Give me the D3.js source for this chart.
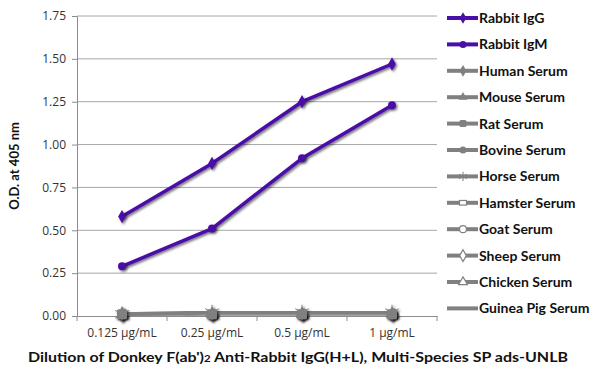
<!DOCTYPE html>
<html>
<head>
<meta charset="utf-8">
<script src="https://cdn.jsdelivr.net/npm/d3@7"></script>
<style>
  body { margin: 0; background: #fff; }
  svg { display: block; }
</style>
</head>
<body>
<div id="chart"></div>
<script>
// Data
const doses = ["0.125 µg/mL", "0.25 µg/mL", "0.5 µg/mL", "1 µg/mL"];
const seriesNames = ["Rabbit IgG", "Rabbit IgM", "Human Serum", "Mouse Serum", "Rat Serum",
  "Bovine Serum", "Horse Serum", "Hamster Serum", "Goat Serum", "Sheep Serum",
  "Chicken Serum", "Guinea Pig Serum"];
const rabbitIgG = [0.58, 0.89, 1.25, 1.47];
const rabbitIgM = [0.29, 0.51, 0.92, 1.23];
const humanSerum = [0.01, 0.01, 0.01, 0.01];
const mouseSerum = [0.01, 0.01, 0.01, 0.01];
const ratSerum = [0.01, 0.01, 0.01, 0.01];
const bovineSerum = [0.01, 0.01, 0.01, 0.01];
const horseSerum = [0.01, 0.02, 0.02, 0.02];
const hamsterSerum = [0.01, 0.01, 0.01, 0.01];
const goatSerum = [0.01, 0.01, 0.01, 0.01];
const sheepSerum = [0.01, 0.01, 0.01, 0.01];
const chickenSerum = [0.01, 0.01, 0.01, 0.01];
const guineaPigSerum = [0.01, 0.01, 0.01, 0.01];
const yTicks = [0, 0.25, 0.5, 0.75, 1.0, 1.25, 1.5, 1.75];

const allValues = [rabbitIgG, rabbitIgM, humanSerum, mouseSerum, ratSerum, bovineSerum,
  horseSerum, hamsterSerum, goatSerum, sheepSerum, chickenSerum, guineaPigSerum];
const shapes = ["diamond", "circle", "diamond", "triangle", "square", "circle",
  "star", "rect", "circleOpen", "diamondOpen", "triangleOpen", "none"];

const purple = "#4b0fa8";
const gray = "#808080";
const series = seriesNames.map((name, i) => ({
  name: name,
  values: allValues[i],
  shape: shapes[i],
  color: i < 2 ? purple : gray
}));

const width = 600, height = 387;
const margin = { top: 16, left: 77, right: 163, bottom: 71 };

const svg = d3.select("#chart").append("svg")
  .attr("width", width)
  .attr("height", height);

// drop shadow for markers
const defs = svg.append("defs");
const filter = defs.append("filter").attr("id", "shadow")
  .attr("x", "-50%").attr("y", "-50%").attr("width", "200%").attr("height", "200%");
filter.append("feDropShadow")
  .attr("dx", 1.5).attr("dy", 1.5).attr("stdDeviation", 1.2)
  .attr("flood-color", "#000").attr("flood-opacity", 0.55);

const x = d3.scaleBand()
  .domain(doses)
  .range([margin.left, width - margin.right]);

const y = d3.scaleLinear()
  .domain([0, 1.75])
  .range([height - margin.bottom, margin.top]);

// grid lines
svg.append("g")
  .selectAll("line")
  .data(yTicks.filter(d => d > 0))
  .join("line")
  .attr("x1", margin.left)
  .attr("x2", width - margin.right)
  .attr("y1", d => y(d))
  .attr("y2", d => y(d))
  .attr("stroke", "#a6a6a6")
  .attr("stroke-width", 1);

// y axis
const yAxis = svg.append("g")
  .attr("transform", `translate(${margin.left},0)`)
  .call(d3.axisLeft(y).tickValues(yTicks).tickFormat(d3.format(".2f")).tickSize(5).tickPadding(6));
yAxis.select(".domain").attr("stroke", "#8c8c8c");
yAxis.selectAll(".tick line").attr("stroke", "#8c8c8c");
yAxis.selectAll("text")
  .attr("font-family", "'Open Sans', sans-serif")
  .attr("font-size", 12)
  .attr("fill", "#333");

// x axis
const xAxis = svg.append("g")
  .attr("transform", `translate(0,${height - margin.bottom})`)
  .call(d3.axisBottom(x).tickSize(0).tickPadding(12));
xAxis.select(".domain").attr("stroke", "#8c8c8c");
xAxis.selectAll("text")
  .attr("font-family", "'Open Sans', sans-serif")
  .attr("font-size", 12)
  .attr("fill", "#333");
// band boundary ticks
xAxis.append("g")
  .selectAll("line")
  .data(doses.concat(["end"]))
  .join("line")
  .attr("x1", (d, i) => margin.left + i * x.bandwidth())
  .attr("x2", (d, i) => margin.left + i * x.bandwidth())
  .attr("y1", 0)
  .attr("y2", 5)
  .attr("stroke", "#8c8c8c");

// axis titles
svg.append("text")
  .attr("transform", `translate(19,${(margin.top + height - margin.bottom) / 2}) rotate(-90)`)
  .attr("text-anchor", "middle")
  .attr("font-family", "Lato, sans-serif")
  .attr("font-weight", 700)
  .attr("font-size", 13)
  .attr("fill", "#111")
  .text("O.D. at 405 nm");

const xTitle = svg.append("text")
  .attr("x", 28)
  .attr("y", 362)
  .attr("font-family", "Lato, sans-serif")
  .attr("font-weight", 700)
  .attr("font-size", 14)
  .attr("fill", "#111")
  .attr("textLength", 540)
  .attr("lengthAdjust", "spacingAndGlyphs");
xTitle.append("tspan").text("Dilution of Donkey F(ab')");
xTitle.append("tspan").attr("font-size", 10).text("2");
xTitle.append("tspan").text(" Anti-Rabbit IgG(H+L), Multi-Species SP ads-UNLB");

// marker drawing
function drawMarker(g, shape, color, size) {
  const s = size;
  if (shape === "diamond" || shape === "diamondOpen") {
    g.append("path").attr("d", d3.symbol(d3.symbolDiamond, s * s * 0.8)())
      .attr("fill", shape === "diamond" ? color : "#fff")
      .attr("stroke", color).attr("stroke-width", shape === "diamond" ? 0 : 1.2);
  } else if (shape === "circle" || shape === "circleOpen") {
    g.append("circle").attr("r", s / 2)
      .attr("fill", shape === "circle" ? color : "#fff")
      .attr("stroke", color).attr("stroke-width", shape === "circle" ? 0 : 1.2);
  } else if (shape === "triangle" || shape === "triangleOpen") {
    g.append("path").attr("d", d3.symbol(d3.symbolTriangle, s * s * 0.7)())
      .attr("fill", shape === "triangle" ? color : "#fff")
      .attr("stroke", color).attr("stroke-width", shape === "triangle" ? 0 : 1.2);
  } else if (shape === "square") {
    g.append("rect").attr("x", -s / 2).attr("y", -s / 2).attr("width", s).attr("height", s)
      .attr("rx", 1.5)
      .attr("fill", color);
  } else if (shape === "rect") {
    g.append("rect").attr("x", -s / 2).attr("y", -s / 3).attr("width", s).attr("height", s * 0.66)
      .attr("fill", "#fff").attr("stroke", color).attr("stroke-width", 1.2);
  } else if (shape === "star") {
    g.append("path").attr("d", d3.symbol(d3.symbolAsterisk, s * s * 1.2)())
      .attr("fill", "none").attr("stroke", color).attr("stroke-width", 1);
  }
}

const line = d3.line()
  .x((d, i) => x(doses[i]) + x.bandwidth() / 2)
  .y(d => y(d));

// draw order: gray series first (star and square last, as they show through), purple on top
const order = [11, 10, 9, 8, 7, 5, 3, 2, 6, 4, 1, 0];
const seriesG = svg.append("g");
order.forEach(k => {
  const s = series[k];
  const g = seriesG.append("g");
  g.append("path")
    .attr("d", line(s.values))
    .attr("fill", "none")
    .attr("stroke", s.color)
    .attr("stroke-width", s.color === gray ? 4 : 3.5)
    .attr("stroke-linejoin", "round")
    .attr("filter", "url(#shadow)");
  s.values.forEach((v, i) => {
    const m = g.append("g")
      .attr("transform", `translate(${x(doses[i]) + x.bandwidth() / 2},${y(v)})`)
      .attr("filter", "url(#shadow)");
    drawMarker(m, s.shape, s.color, s.shape === "square" ? 10 : (s.shape === "star" ? 12 : 8));
  });
});

// legend
const legend = svg.append("g").attr("transform", "translate(447,18)");
series.forEach((s, i) => {
  const row = legend.append("g").attr("transform", `translate(0,${i * 26.4})`);
  row.append("line")
    .attr("x1", 0).attr("x2", 31)
    .attr("y1", 0).attr("y2", 0)
    .attr("stroke", s.color)
    .attr("stroke-width", 4);
  const m = row.append("g").attr("transform", "translate(16,0)");
  drawMarker(m, s.shape, s.color, 7);
  row.append("text")
    .attr("x", 32)
    .attr("y", 0)
    .attr("dy", "0.36em")
    .attr("font-family", "Lato, sans-serif")
    .attr("font-weight", 700)
    .attr("font-size", 14)
    .attr("fill", "#111")
    .text(s.name);
});
</script>
</body>
</html>
